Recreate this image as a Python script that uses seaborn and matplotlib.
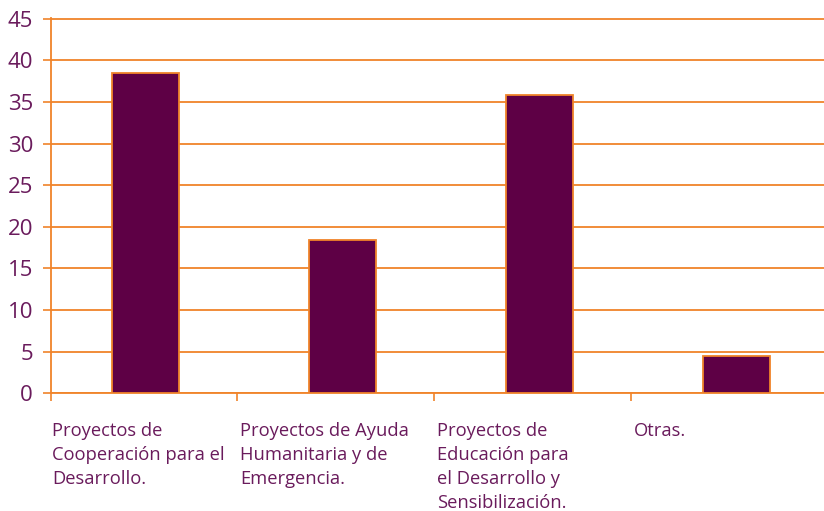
import matplotlib
matplotlib.use("Agg")
import matplotlib.pyplot as plt
import seaborn as sns
import pandas as pd

# Datos
categorias = [
    "Proyectos de\nCooperación para el\nDesarrollo.",
    "Proyectos de Ayuda\nHumanitaria y de\nEmergencia.",
    "Proyectos de\nEducación para\nel Desarrollo y\nSensibilización.",
    "Otras.",
]
valores = [38.5, 18.4, 35.9, 4.5]
yticks = [0, 5, 10, 15, 20, 25, 30, 35, 40, 45]

COLOR_BARRA = "#5e0045"
COLOR_NARANJA = "#f0842a"
COLOR_TEXTO = "#6a1b5c"

sns.set_style("white")
plt.rcParams['font.family'] = ['Open Sans', 'DejaVu Sans']

df = pd.DataFrame({'Categoria': [str(i) for i in range(len(categorias))], 'Valor': valores})

fig = plt.figure(figsize=(8.24, 5.11), dpi=100)
ax = fig.add_axes([51 / 824, 1 - 393.3 / 511, 1 - 51 / 824, (393.3 - 18) / 511])

sns.barplot(data=df, x='Categoria', y='Valor', color=COLOR_BARRA, saturation=1,
            edgecolor=COLOR_NARANJA, linewidth=1.3, width=0.34, ax=ax, zorder=3)

# escala horizontal: ~196.5 px por categoría
paso = 196.5
x_izq = -94.5 / paso
x_der = 3 + 87.5 / paso
desfase = 7 / paso
ax.set_xlim(x_izq, x_der)
ax.set_ylim(0, 45.1)

ax.set_yticks(yticks)
ax.set_yticklabels([str(v) for v in yticks], fontsize=16, color=COLOR_TEXTO)
ax.tick_params(axis='y', length=6, width=1.2, color=COLOR_NARANJA, pad=7, left=True)

# marcas del eje x en los límites entre categorías
limites = [x_izq] + [i + 0.5 - desfase for i in range(len(categorias) - 1)]
ax.set_xticks(limites)
ax.set_xticklabels([])
ax.tick_params(axis='x', length=6, width=1.2, color=COLOR_NARANJA, bottom=True)

ax.set_xlabel('')
ax.set_ylabel('')
ax.grid(axis='y', color=COLOR_NARANJA, linewidth=1.3, zorder=0)
ax.grid(axis='x', visible=False)
ax.set_axisbelow(True)

for lado in ['top', 'right']:
    ax.spines[lado].set_visible(False)
for lado in ['left', 'bottom']:
    ax.spines[lado].set_color(COLOR_NARANJA)
    ax.spines[lado].set_linewidth(1.3)

for i, texto in enumerate(categorias):
    x0 = limites[i]
    ax.annotate(texto, xy=(x0, 0), xytext=(1 if i == 0 else 3, -29),
                textcoords='offset pixels', ha='left', va='top',
                fontsize=13.2, color=COLOR_TEXTO, linespacing=1.42,
                annotation_clip=False)

plt.savefig('out.png', dpi=100)
plt.close()
